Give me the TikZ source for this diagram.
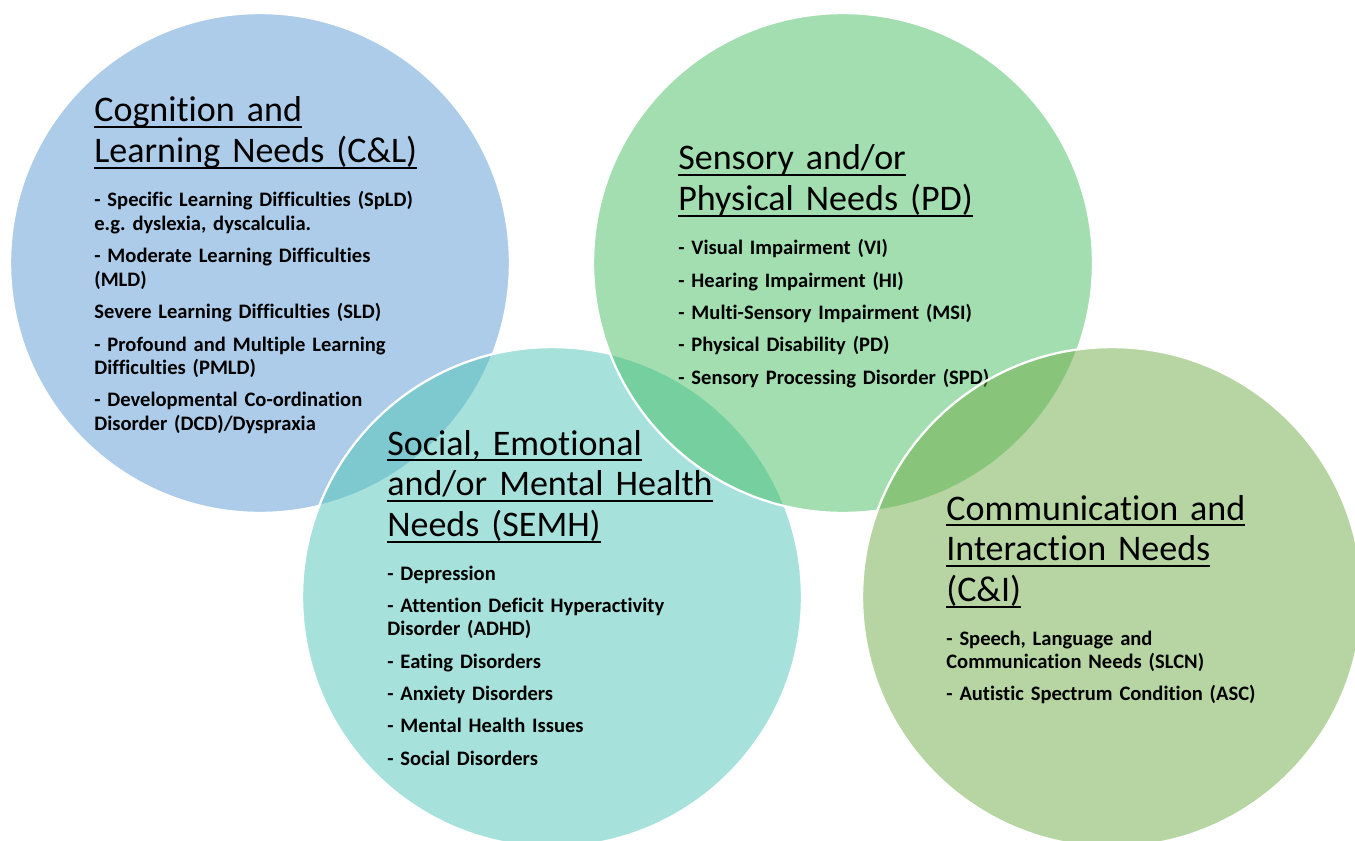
\documentclass[tikz,border=0pt]{standalone}
\usepackage{fontspec}
\setmainfont[Ligatures=CommonOff]{Carlito}
\frenchspacing
\newcommand{\ttlline}[1]{\leavevmode\setbox0\hbox{#1}\rlap{\rule[-0.16em]{\wd0}{0.055em}}\box0}

\begin{document}
\begin{tikzpicture}[x=0.02cm,y=-0.02cm,
  venn/.style={circle,minimum size=10cm,inner sep=0,draw=white,line width=1.3pt,fill opacity=0.5},
  ttl/.style={anchor=base west,inner sep=0,text width=9cm,align=left,font=\fontsize{20.5pt}{23.3pt}\selectfont},
  lst/.style={anchor=base west,inner sep=0,text width=9cm,align=left,font=\bfseries\fontsize{11.7pt}{13.4pt}\selectfont}]
\definecolor{clblue}{HTML}{5B9BD5}
\definecolor{semhteal}{HTML}{51C5B9}
\definecolor{pdgreen}{HTML}{47BF63}
\definecolor{cigreen}{HTML}{70AD47}
\useasboundingbox (0,0) rectangle (1355,841);
\fill[white] (0,0) rectangle (1355,841);
\clip (0,0) rectangle (1355,841);

\node [venn,fill=clblue] (cl) at (260,263) {};
\node [ttl] (cltitle) at (94,122) {\ttlline{Cognition and}\\\ttlline{Learning Needs (C\&L)}};
\node [lst] (cllist) at (94,207) {- Specific Learning Difficulties (SpLD)\\e.g. dyslexia, dyscalculia.\\[5pt]
  - Moderate Learning Difficulties\\(MLD)\\[5pt]
  Severe Learning Difficulties (SLD)\\[5pt]
  - Profound and Multiple Learning\\Difficulties (PMLD)\\[5pt]
  - Developmental Co-ordination\\Disorder (DCD)/Dyspraxia};

\node [venn,fill=semhteal] (semh) at (552,597) {};
\node [ttl] (semhtitle) at (387,455) {\ttlline{Social, Emotional}\\\ttlline{and/or Mental Health}\\\ttlline{Needs (SEMH)}};
\node [lst] (semhlist) at (387,580) {- Depression\\[5pt]
  - Attention Deficit Hyperactivity\\Disorder (ADHD)\\[5pt]
  - Eating Disorders\\[5pt]
  - Anxiety Disorders\\[5pt]
  - Mental Health Issues\\[5pt]
  - Social Disorders};

\node [venn,fill=pdgreen] (pd) at (843,263) {};
\node [ttl] (pdtitle) at (678,170) {\ttlline{Sensory and/or}\\\ttlline{Physical Needs (PD)}};
\node [lst] (pdlist) at (678,255) {- Visual Impairment (VI)\\[5pt]
  - Hearing Impairment (HI)\\[5pt]
  - Multi-Sensory Impairment (MSI)\\[5pt]
  - Physical Disability (PD)\\[5pt]
  - Sensory Processing Disorder (SPD)};

\node [venn,fill=cigreen] (ci) at (1112,597) {};
\node [ttl] (cititle) at (946,520) {\ttlline{Communication and}\\\ttlline{Interaction Needs}\\\ttlline{(C\&I)}};
\node [lst] (cilist) at (946,645) {- Speech, Language and\\Communication Needs (SLCN)\\[5pt]
  - Autistic Spectrum Condition (ASC)};
\end{tikzpicture}
\end{document}
